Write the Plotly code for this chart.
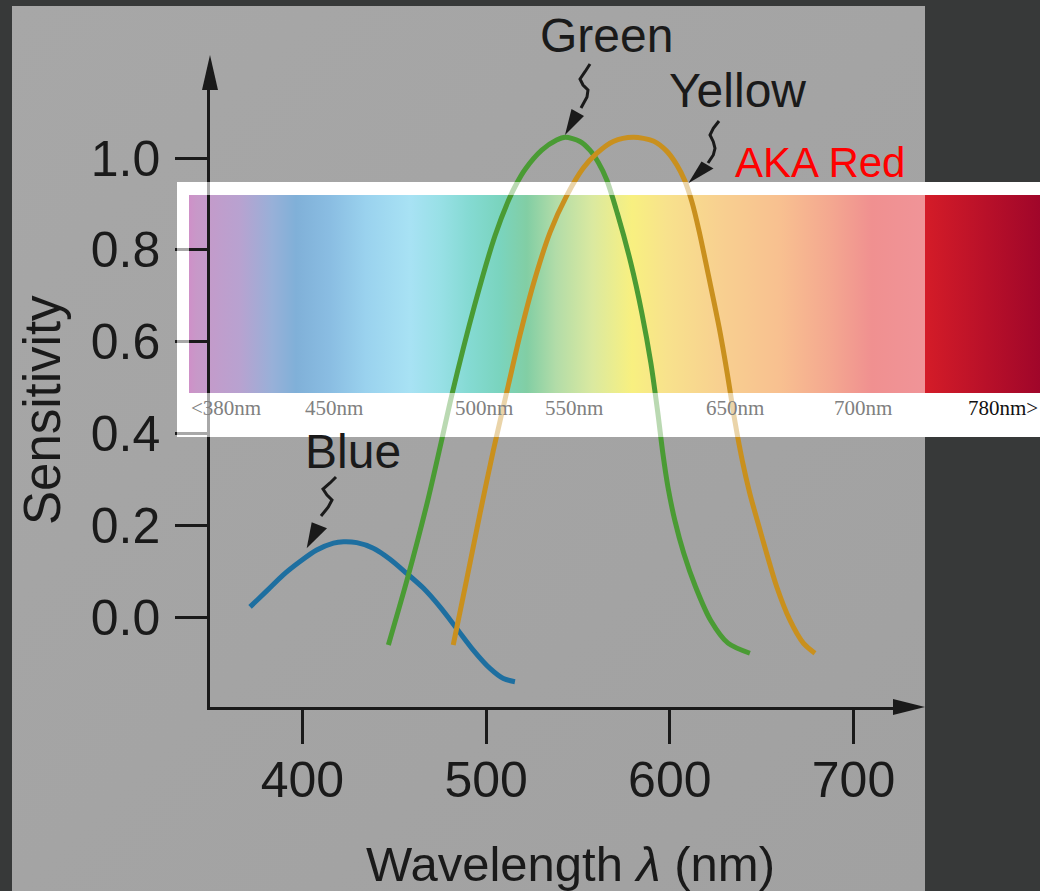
import base64
import plotly.graph_objects as go

# ---------------- data ----------------
blue_wl = [371.5, 380.6, 389.6, 398.7, 407.8, 416.9, 422.4, 429.6, 438.6, 447.7,
           456.8, 465.8, 474.9, 484.0, 493.0, 502.1, 509.4, 515.7]
blue_s = [0.022, 0.057, 0.092, 0.121, 0.146, 0.161, 0.164, 0.162, 0.150, 0.126,
          0.095, 0.063, 0.022, -0.025, -0.072, -0.112, -0.134, -0.141]

green_wl = [446.8, 457.6, 468.5, 475.8, 481.3, 493.8, 504.8, 512.1, 516.7, 521.2,
            530.3, 538.4, 543.0, 551.1, 556.5, 561.1, 565.7, 571.4, 578.8, 584.8,
            589.7, 593.5, 596.2, 599.0, 602.7, 607.6, 614.0, 622.2, 631.7, 643.6]
green_s = [-0.061, 0.090, 0.258, 0.385, 0.483, 0.680, 0.830, 0.907, 0.945, 0.975,
           1.017, 1.039, 1.045, 1.036, 1.017, 0.990, 0.952, 0.880, 0.771, 0.662,
           0.553, 0.444, 0.357, 0.283, 0.211, 0.139, 0.066, -0.007, -0.057, -0.079]

yellow_wl = [482.1, 489.4, 496.7, 503.9, 512.1, 518.5, 525.7, 534.8, 543.9, 552.9,
             560.2, 569.2, 580.1, 591.0, 598.3, 603.8, 608.0, 612.0, 616.0, 621.0,
             626.9, 631.3, 635.5, 639.5, 643.5, 648.0, 652.7, 658.2, 665.4, 672.7,
             679.0]
yellow_s = [-0.061, 0.081, 0.226, 0.362, 0.505, 0.615, 0.725, 0.838, 0.918, 0.978,
            1.010, 1.036, 1.045, 1.037, 1.015, 0.985, 0.952, 0.905, 0.840, 0.745,
            0.630, 0.530, 0.425, 0.340, 0.270, 0.205, 0.139, 0.066, -0.007, -0.057,
            -0.079]

x_ticks = [400, 500, 600, 700]
y_ticks = [0.0, 0.2, 0.4, 0.6, 0.8, 1.0]
y_tick_text = ["0.0", "0.2", "0.4", "0.6", "0.8", "1.0"]

curve_labels = ["Blue", "Green", "Yellow"]
spectrum_labels = ["<380nm", "450nm", "500nm", "550nm", "650nm", "700nm", "780nm>"]

# ---------------- layout geometry (pixels) ----------------
W, H = 1040, 891
L, R, T, B = 210, 893, 87, 707          # plot area box
PX_PER_NM = 1.837
X400_PX = 302.4
Y0_PX, PX_PER_UNIT = 617, 459

x_range = [400 + (L - X400_PX) / PX_PER_NM, 400 + (R - X400_PX) / PX_PER_NM]
y_range = [(Y0_PX - B) / PX_PER_UNIT, (Y0_PX - T) / PX_PER_UNIT]


def px(x):
    return (x - L) / (R - L)


def py(y):
    return (B - y) / (B - T)


def path(points, close=False):
    s = "M " + " L ".join(f"{px(x):.5f},{py(y):.5f}" for x, y in points)
    return s + (" Z" if close else "")


def svg_uri(svg):
    return "data:image/svg+xml;base64," + base64.b64encode(svg.encode()).decode()


# ---------------- decorative images ----------------
panel_svg = ('<svg xmlns="http://www.w3.org/2000/svg" width="100" height="100" '
             'viewBox="0 0 100 100" preserveAspectRatio="none">'
             '<defs><linearGradient id="p" x1="0" y1="0" x2="1" y2="1">'
             '<stop offset="0" stop-color="#a7a7a7"/><stop offset="1" stop-color="#a1a1a1"/>'
             '</linearGradient></defs>'
             '<rect width="100" height="100" fill="url(#p)"/></svg>')

OV_X0, OV_Y0, OV_X1, OV_Y1 = 177, 182, 1040, 437
GR_X0, GR_Y0, GR_X1, GR_Y1 = 189, 195, 925, 393
grad_stops = [(189, "#cf90c8"), (196, "#c898c8"), (240, "#b8a2d0"), (272, "#98b0d8"),
              (296, "#80b0d8"), (330, "#8abde2"), (366, "#9ad2ee"), (410, "#a8e2f4"),
              (440, "#98e0e6"), (470, "#84dad2"), (500, "#7ad4be"), (527, "#82cea4"),
              (556, "#b2dca8"), (592, "#dae9a0"), (632, "#f8f080"), (666, "#f8e28c"),
              (720, "#f8d090"), (780, "#f8c090"), (830, "#f4a890"), (872, "#f09090"),
              (925, "#f09498")]
stops = "".join(f'<stop offset="{(x - GR_X0) / (GR_X1 - GR_X0):.4f}" stop-color="{c}"/>'
                for x, c in grad_stops)
ow, oh = OV_X1 - OV_X0, OV_Y1 - OV_Y0
gx, gy, gw, gh = GR_X0 - OV_X0, GR_Y0 - OV_Y0, GR_X1 - GR_X0, GR_Y1 - GR_Y0
svg_head = (f'<svg xmlns="http://www.w3.org/2000/svg" width="{ow}" height="{oh}" '
            f'viewBox="0 0 {ow} {oh}" preserveAspectRatio="none">')
grad_defs = (f'<defs><linearGradient id="g" x1="0" y1="0" x2="1" y2="0">{stops}</linearGradient>'
             '<linearGradient id="r" x1="0" y1="0" x2="1" y2="0">'
             '<stop offset="0" stop-color="#d41c28"/><stop offset="1" stop-color="#a0062a"/>'
             '</linearGradient></defs>')
grad_rects = (f'<rect x="{gx}" y="{gy}" width="{gw}" height="{gh}" fill="url(#g)"/>'
              f'<rect x="{GR_X1 - OV_X0}" y="{gy}" width="{OV_X1 - GR_X1}" height="{gh}" '
              f'fill="url(#r)"/>')
full_svg = svg_head + grad_defs + f'<rect width="{ow}" height="{oh}" fill="#ffffff"/>' \
    + grad_rects + '</svg>'
frame_svg = svg_head + (f'<path fill="#ffffff" fill-rule="evenodd" d="M0,0 H{ow} V{oh} H0 Z '
                        f'M{gx},{gy} V{gy + gh} H{ow} V{gy} Z"/>') + '</svg>'
grad_svg = svg_head + grad_defs + grad_rects + '</svg>'


def overlay_image(svg, layer, opacity):
    return dict(source=svg_uri(svg), xref="paper", yref="paper",
                x=px(OV_X0), y=py(OV_Y0), sizex=px(OV_X1) - px(OV_X0),
                sizey=py(OV_Y0) - py(OV_Y1), xanchor="left", yanchor="top",
                sizing="stretch", layer=layer, opacity=opacity)


images = [
    dict(source=svg_uri(panel_svg), xref="paper", yref="paper",
         x=px(12), y=py(6), sizex=px(925) - px(12), sizey=py(6) - py(891),
         xanchor="left", yanchor="top", sizing="stretch", layer="below"),
    overlay_image(full_svg, "below", 1.0),
    overlay_image(frame_svg, "above", 0.62),
    overlay_image(grad_svg, "above", 0.38),
]

# ---------------- figure ----------------
fig = go.Figure()
line_colors = {"Blue": "#1e6fa0", "Green": "#4a9b34", "Yellow": "#c9901e"}
for name, xs, ys in [("Blue", blue_wl, blue_s), ("Green", green_wl, green_s),
                     ("Yellow", yellow_wl, yellow_s)]:
    fig.add_trace(go.Scatter(x=xs, y=ys, mode="lines", name=name, showlegend=False,
                             line=dict(color=line_colors[name], width=5,
                                       shape="spline", smoothing=0.8),
                             hoverinfo="skip"))

INK = "#1a1a1a"
shapes = []
# axis arrowheads
shapes.append(dict(type="path", xref="paper", yref="paper", layer="above",
                   path=path([(210, 55), (202, 90), (218, 90)], close=True),
                   fillcolor=INK, line=dict(width=0)))
shapes.append(dict(type="path", xref="paper", yref="paper", layer="above",
                   path=path([(925, 707), (893, 699), (893, 715)], close=True),
                   fillcolor=INK, line=dict(width=0)))

# squiggle pointers (label -> curve)
squiggles = {
    "Green": ([(590, 64), (585, 71.7), (580, 79), (583, 85), (588, 90), (587, 97), (581, 108)],
              [(565, 135), (571.5, 108.9), (584, 116)]),
    "Yellow": ([(719, 121), (713.3, 128.3), (710, 135), (713.3, 141.7), (715, 148.3),
                (713.3, 155), (708, 163)],
               [(688.3, 183.3), (701.5, 161.5), (713.5, 168.5)]),
    "Blue": ([(336, 477), (330, 483), (323, 489), (327, 495), (332, 500), (328.3, 507),
              (321, 516)],
             [(306.7, 548.3), (311.7, 522.3), (327, 528.3)]),
}
for name in curve_labels:
    line_pts, head = squiggles[name]
    shapes.append(dict(type="path", xref="paper", yref="paper", layer="above",
                       path=path(line_pts), line=dict(color=INK, width=3)))
    shapes.append(dict(type="path", xref="paper", yref="paper", layer="above",
                       path=path(head, close=True), fillcolor=INK, line=dict(width=0)))

SANS = "Liberation Sans, Arial, Helvetica, sans-serif"
SERIF = "Liberation Serif, Times New Roman, serif"
annotations = []
label_pos = {"Green": (606.5, 36), "Yellow": (737.5, 90), "Blue": (352.5, 452)}
for name in curve_labels:
    x, y = label_pos[name]
    annotations.append(dict(text=name, x=px(x), y=py(y), xref="paper", yref="paper",
                            xanchor="center", yanchor="middle", showarrow=False,
                            font=dict(family=SANS, size=48, color=INK)))
annotations.append(dict(text="AKA Red", x=px(820), y=py(162), xref="paper", yref="paper",
                        xanchor="center", yanchor="middle", showarrow=False,
                        font=dict(family=SANS, size=42, color="#ff0000")))
annotations.append(dict(text="Wavelength <i>λ</i> (nm)", x=px(570), y=py(864),
                        xref="paper", yref="paper", xanchor="center", yanchor="middle",
                        showarrow=False, font=dict(family=SANS, size=49, color=INK)))
annotations.append(dict(text="Sensitivity", x=px(42), y=py(410), xref="paper", yref="paper",
                        xanchor="center", yanchor="middle", showarrow=False, textangle=-90,
                        font=dict(family=SANS, size=51, color=INK)))

spec_label_x = [189, 303, 453, 543, 704, 832, 966]
for text, x in zip(spectrum_labels, spec_label_x):
    annotations.append(dict(text=text.replace("<", "&lt;").replace(">", "&gt;"),
                            x=px(x), y=py(408), xref="paper", yref="paper",
                            xanchor="left", yanchor="middle", showarrow=False,
                            font=dict(family=SERIF, size=21,
                                      color="#111111" if text.endswith(">") else "#808080")))

fig.update_layout(
    width=W, height=H,
    margin=dict(l=L, r=W - R, t=T, b=H - B, pad=0),
    paper_bgcolor="#373939",
    plot_bgcolor="rgba(0,0,0,0)",
    showlegend=False,
    images=images,
    shapes=shapes,
    annotations=annotations,
    xaxis=dict(range=x_range, showgrid=False, zeroline=False, showline=True,
               linecolor=INK, linewidth=2.5, ticks="outside", ticklen=34, tickwidth=2.5,
               tickcolor=INK, tickvals=x_ticks, ticktext=[str(v) for v in x_ticks],
               tickfont=dict(family=SANS, size=50, color=INK), ticklabelstandoff=-7,
               fixedrange=True),
    yaxis=dict(range=y_range, showgrid=False, zeroline=False, showline=True,
               linecolor=INK, linewidth=2.5, ticks="outside", ticklen=32, tickwidth=2.5,
               tickcolor=INK, tickvals=y_ticks, ticktext=y_tick_text,
               tickfont=dict(family=SANS, size=50, color=INK), ticklabelstandoff=5,
               fixedrange=True),
)

fig.write_html(
    "out.html",
    config={"displayModeBar": False},
    post_script="document.body.style.margin='0px';document.body.style.padding='0px';"
                "document.body.style.overflow='hidden';",
)
